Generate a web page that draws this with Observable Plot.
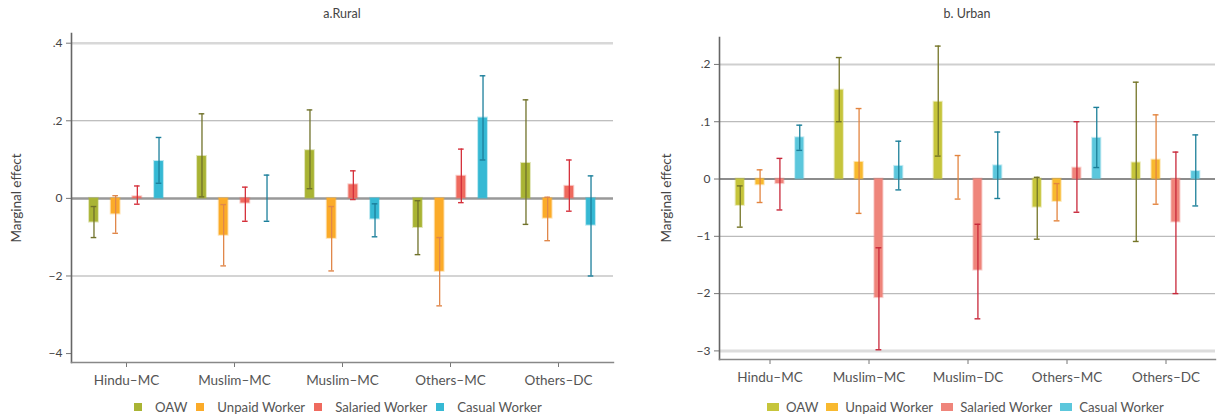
<!DOCTYPE html>
<html>
<head>
<meta charset="utf-8">
<script src="https://cdn.jsdelivr.net/npm/d3@7"></script>
<script src="https://cdn.jsdelivr.net/npm/@observablehq/plot@0.6"></script>
<style>
  body { margin: 0; background: #fff; font-family: Lato, "Open Sans", sans-serif; }
  #wrap { position: relative; width: 1219px; height: 418px; overflow: hidden; }
  .panel { position: absolute; top: 0; }
  .title { position: absolute; top: 6px; font-size: 12.5px; color: #444; transform: translateX(-50%); white-space: nowrap; }
  .ylab { position: absolute; font-size: 13.5px; color: #444; white-space: nowrap; transform: translate(-50%, -50%) rotate(-90deg); }
  .legend { position: absolute; top: 399px; display: flex; align-items: center; font-size: 13.2px; color: #555; white-space: nowrap; }
  .legend .sw { display: inline-block; }
</style>
</head>
<body>
<div id="wrap">
  <div id="rural" class="panel" style="left:0px"></div>
  <div id="urban" class="panel" style="left:620px"></div>
  <div class="title" style="left:342px">a.Rural</div>
  <div class="title" style="left:967px">b. Urban</div>
  <div class="ylab" style="left:16px;top:198px">Marginal effect</div>
  <div class="ylab" style="left:666px;top:198px">Marginal effect</div>
  <div id="legRural" class="legend" style="left:134px"></div>
  <div id="legUrban" class="legend" style="left:767px"></div>
</div>
<script>
// ---------------- data ----------------
const workers = ["OAW", "Unpaid Worker", "Salaried Worker", "Casual Worker"];

const ruralCategories = ["Hindu–MC", "Muslim–MC", "Muslim–MC", "Others–MC", "Others–DC"];
const urbanCategories = ["Hindu–MC", "Muslim–MC", "Muslim–DC", "Others–MC", "Others–DC"];

// rows: OAW, Unpaid, Salaried, Casual; columns: categories
const ruralEst = [
  [-0.061, 0.108, 0.123, -0.075, 0.090],
  [-0.040, -0.095, -0.103, -0.188, -0.051],
  [0.004, -0.012, 0.035, 0.057, 0.031],
  [0.095, 0.000, -0.053, 0.207, -0.069]
];
const ruralLow = [
  [-0.101, 0.004, 0.025, -0.145, -0.067],
  [-0.090, -0.174, -0.187, -0.277, -0.109],
  [-0.015, -0.059, -0.003, -0.011, -0.033],
  [0.039, -0.059, -0.099, 0.099, -0.200]
];
const ruralHigh = [
  [-0.021, 0.218, 0.228, -0.006, 0.254],
  [0.007, -0.016, -0.021, -0.101, 0.003],
  [0.032, 0.029, 0.071, 0.127, 0.099],
  [0.157, 0.060, -0.014, 0.316, 0.058]
];

const urbanEst = [
  [-0.046, 0.155, 0.134, -0.049, 0.028],
  [-0.010, 0.029, 0.000, -0.039, 0.033],
  [-0.008, -0.207, -0.159, 0.019, -0.075],
  [0.072, 0.022, 0.023, 0.071, 0.013]
];
const urbanLow = [
  [-0.084, 0.100, 0.040, -0.105, -0.109],
  [-0.041, -0.060, -0.035, -0.073, -0.044],
  [-0.054, -0.298, -0.244, -0.058, -0.200],
  [0.050, -0.019, -0.034, 0.020, -0.047]
];
const urbanHigh = [
  [-0.012, 0.212, 0.232, 0.003, 0.169],
  [0.016, 0.123, 0.041, -0.008, 0.112],
  [0.036, -0.120, -0.079, 0.100, 0.047],
  [0.094, 0.066, 0.082, 0.125, 0.077]
];

const ruralTicks = [0.4, 0.2, 0, -0.2, -0.4];
const ruralTickLabels = [".4", ".2", "0", "−2", "−4"];
const urbanTicks = [0.2, 0.1, 0, -0.1, -0.2, -0.3];
const urbanTickLabels = [".2", ".1", "0", "−1", "−2", "−3"];

// ---------------- styles ----------------
const ruralFill = ["#a9b434", "#fbab29", "#ef6a5e", "#36b9d4"];
const urbanFill = ["#c6c53b", "#f8b92f", "#ef857b", "#5cc7dc"];
const ruralErr = ["#70722a", "#e0874a", "#d5303b", "#1b7f9b"];
const urbanErr = ["#747426", "#e3843e", "#c8283a", "#1c7f99"];

function panel(opts) {
  const {width, height, mL, mR, mT, mB, yDomain, est, low, high, fills, errs,
         cats, ticks, tickLabels, grids, zeroStyle} = opts;
  const bw = (width - mL - mR) / cats.length;
  const step = bw * 0.2;
  const barW = bw * 0.085;
  const capW = 6;
  const marks = [];
  for (const g of grids) marks.push(Plot.ruleY(g.values, {stroke: g.stroke, strokeWidth: g.width}));
  marks.push(Plot.ruleY([0], zeroStyle));
  workers.forEach((w, i) => {
    const rows = cats.map((c, j) => ({cat: j, est: est[i][j], low: low[i][j], high: high[i][j]}));
    const dx = (i - 1.5) * step;
    const inset = (bw - barW) / 2;
    const capInset = (bw - capW) / 2;
    marks.push(Plot.barY(rows, {x: "cat", y: "est", dx, insetLeft: inset, insetRight: inset,
      fill: fills[i], stroke: fills[i], strokeOpacity: 0.35, strokeWidth: 2}));
    marks.push(Plot.ruleX(rows, {x: "cat", y1: "low", y2: "high", dx, stroke: errs[i], strokeWidth: 1.3}));
    marks.push(Plot.tickY(rows, {x: "cat", y: "low", dx, insetLeft: capInset, insetRight: capInset, stroke: errs[i], strokeWidth: 1.4}));
    marks.push(Plot.tickY(rows, {x: "cat", y: "high", dx, insetLeft: capInset, insetRight: capInset, stroke: errs[i], strokeWidth: 1.4}));
  });
  marks.push(Plot.axisY({ticks, tickFormat: d => tickLabels[ticks.indexOf(d)], tickSize: 5, tickPadding: 4,
    fontSize: 12, stroke: "#777", label: null, color: "#444"}));
  marks.push(Plot.axisX({tickFormat: j => cats[j], tickSize: 5, tickPadding: 8, fontSize: 13.5, stroke: "#777", label: null, color: "#555"}));
  marks.push(Plot.frame({anchor: "left", stroke: "#666", strokeWidth: 1.6}));
  marks.push(Plot.frame({anchor: "bottom", stroke: "#888", strokeWidth: 1.4}));
  return Plot.plot({
    width, height, marginLeft: mL, marginRight: mR, marginTop: mT, marginBottom: mB,
    x: {type: "band", domain: d3.range(cats.length), padding: 0},
    y: {domain: yDomain},
    style: {fontFamily: "Lato, 'Open Sans', sans-serif", color: "#555", background: "transparent", fontSize: "12px"},
    marks
  });
}

document.getElementById("rural").append(panel({
  width: 620, height: 395, mL: 71, mR: 7, mT: 33, mB: 33,
  yDomain: [-0.423, 0.425], est: ruralEst, low: ruralLow, high: ruralHigh,
  fills: ruralFill, errs: ruralErr, cats: ruralCategories,
  ticks: ruralTicks, tickLabels: ruralTickLabels,
  grids: [
    {values: [0.4], stroke: "#d8d8d8", width: 2.5},
    {values: [0.2, -0.2], stroke: "#aaaaaa", width: 1.1}
  ],
  zeroStyle: {stroke: "#999", strokeWidth: 2.5}
}));

document.getElementById("urban").append(panel({
  width: 599, height: 395, mL: 99, mR: 4, mT: 37, mB: 36,
  yDomain: [-0.315, 0.247], est: urbanEst, low: urbanLow, high: urbanHigh,
  fills: urbanFill, errs: urbanErr, cats: urbanCategories,
  ticks: urbanTicks, tickLabels: urbanTickLabels,
  grids: [
    {values: [0.2], stroke: "#cfcfcf", width: 2},
    {values: [0.1, -0.1, -0.2], stroke: "#bbbbbb", width: 1.3},
    {values: [-0.3], stroke: "#dcdcdc", width: 3}
  ],
  zeroStyle: {stroke: "#666", strokeWidth: 1.5}
}));

function legend(id, fills, sw, sh, gapIn, gapOut) {
  const el = document.getElementById(id);
  workers.forEach((w, i) => {
    const s = document.createElement("span");
    s.className = "sw";
    s.style.cssText = `width:${sw}px;height:${sh}px;background:${fills[i]};margin-right:${gapIn}px;margin-left:${i ? gapOut : 0}px`;
    const t = document.createElement("span");
    t.textContent = w;
    el.append(s, t);
  });
}
legend("legRural", ruralFill, 8, 8, 13, 9);
legend("legUrban", urbanFill, 12, 8, 7, 8);
</script>
</body>
</html>
